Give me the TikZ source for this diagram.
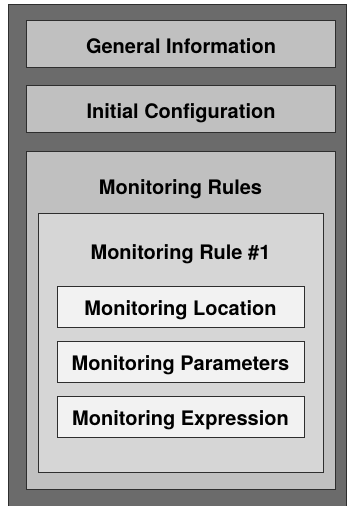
\documentclass[tikz,border=0pt]{standalone}
\usepackage{fontspec}
\setmainfont{TeX Gyre Heros}
\usetikzlibrary{positioning}

\definecolor{sheetgray}{HTML}{6B6B6B}
\definecolor{sectiongray}{HTML}{C0C0C0}
\definecolor{rulegray}{HTML}{D6D6D6}
\definecolor{fieldgray}{HTML}{F2F2F2}
\definecolor{edgegray}{HTML}{2E2E2E}

\begin{document}
\begin{tikzpicture}[x=1pt, y=-1pt,
  frame/.style={rectangle, draw=edgegray, line width=1pt, inner sep=0pt, anchor=north west},
  section/.style={frame, fill=sectiongray, minimum width=309pt},
  field/.style={rectangle, draw=edgegray, line width=1pt, fill=fieldgray,
    minimum width=247pt, minimum height=41pt, inner sep=0pt,
    text height=18pt, text depth=0pt,
    font=\bfseries\fontsize{20}{24}\selectfont},
  title/.style={font=\bfseries\fontsize{20}{24}\selectfont, inner sep=0pt,
    text height=19pt, text depth=0pt}]
  \fill[white] (0,0) rectangle (346,506);
  \useasboundingbox (0,0) rectangle (346,506);

  \node (sheet) [frame, fill=sheetgray, minimum width=338pt, minimum height=502pt] at (8,4) {};

  \node (general) [section, minimum height=47pt] at (26,20) {};
  \node (initial) [section, minimum height=47pt, below=17pt of general] {};
  \node (rules) [section, minimum height=338pt, below=18pt of initial] {};
  \node (rule1) [frame, fill=rulegray, minimum width=285pt, minimum height=259pt] at (38,213) {};

  \node (generaltitle) [title] at (general.center) {General Information};
  \node (initialtitle) [title] at (initial.center) {Initial Configuration};
  \node (rulestitle) [title] at (180.5,184.5) {Monitoring Rules};
  \node (rule1title) [title] at (180.5,249.5) {Monitoring Rule \#1};

  \node (location) [field] at (180.5,306.5) {Monitoring Location};
  \node (parameters) [field, below=13pt of location] {Monitoring Parameters};
  \node (expression) [field, below=13pt of parameters] {Monitoring Expression};
\end{tikzpicture}
\end{document}
